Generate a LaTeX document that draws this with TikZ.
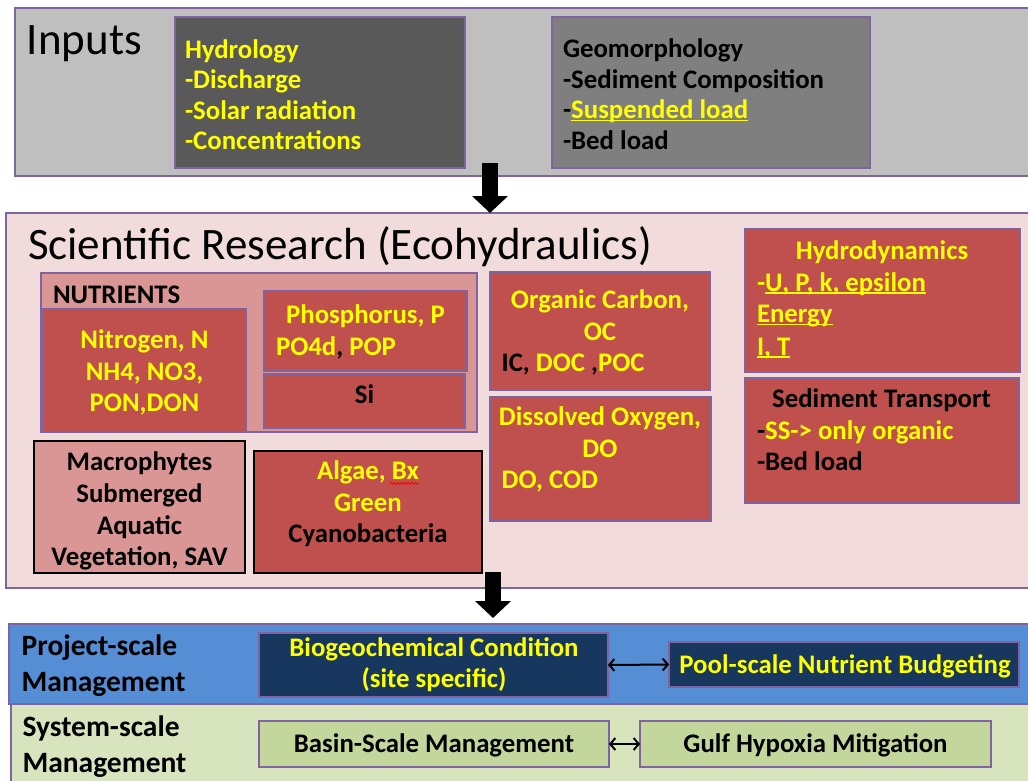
\documentclass[tikz,border=0pt]{standalone}
\usepackage{fontspec}
\setmainfont{Carlito}
\usetikzlibrary{arrows.meta,decorations.pathmorphing}
\definecolor{purp}{HTML}{8064A2}
\definecolor{inbg}{HTML}{BFBFBF}
\definecolor{hydbg}{HTML}{595959}
\definecolor{geobg}{HTML}{7F7F7F}
\definecolor{resbg}{HTML}{F2DCDB}
\definecolor{pinkbg}{HTML}{D99694}
\definecolor{redbg}{HTML}{C0504D}
\definecolor{yel}{HTML}{FFFF00}
\definecolor{projbg}{HTML}{558ED5}
\definecolor{navy}{HTML}{17375E}
\definecolor{sysbg}{HTML}{D7E4BD}
\definecolor{grbox}{HTML}{C3D69B}
\newcommand\bodyfont{\bfseries\fontsize{26.8}{32}\selectfont}
\newcommand\botfont{\bfseries\fontsize{26.8}{32}\selectfont}
\newcommand\lblfont{\bfseries\fontsize{29.5}{35}\selectfont}
\newcommand\bigfont{\fontsize{45}{52}\selectfont}
\newcommand\ulx[1]{\setbox0\hbox{#1}\rlap{\rule[-2.6pt]{\wd0}{1.5pt}}\box0}
\newcommand\bx[6]{\node[#1, anchor=north west, minimum width={(#5-#3)*1pt}, minimum height={(#6-#4)*1pt}] (#2) at (#3,#4) {};}
\newcommand\txtat[5][]{\node[txt,#1] (#2) at (#3,#4) {#5};}
\begin{document}
\begin{tikzpicture}[x=1pt,y=-1pt,
  band/.style={draw=purp, line width=2pt, inner sep=0pt, outer sep=0pt},
  pbox/.style={draw=purp, line width=2pt, inner sep=0pt, outer sep=0pt},
  kbox/.style={draw=black, line width=1.5pt, inner sep=0pt, outer sep=0pt},
  txt/.style={inner sep=0pt, outer sep=0pt, anchor=base west, font=\bodyfont, text=black},
  ctr/.style={anchor=base},
  yl/.style={text=yel},
  bot/.style={font=\botfont},
  lbl/.style={font=\lblfont},
  blk/.style={line width=16pt, -{Triangle[width=35pt 0 0, length=17pt 0 0]}},
  dbl/.style={line width=2pt, {Straight Barb[length=5pt,width=12pt]}-{Straight Barb[length=5pt,width=12pt]}}
]
\fill[white] (0,0) rectangle (1028,780);
\useasboundingbox (0,0) rectangle (1028,780);

% bands
\bx{band, fill=inbg}{inputs}{15}{8}{1034}{176}
\bx{band, fill=resbg}{research}{6}{213}{1034}{588}
\bx{band, fill=projbg}{project}{9}{624}{1034}{704}
\bx{band, fill=sysbg}{system}{11}{704}{1034}{788}

% boxes
\bx{pbox, fill=hydbg}{hyd}{175}{17}{465}{168}
\bx{pbox, fill=geobg}{geo}{552}{17}{870}{168}
\bx{pbox, fill=pinkbg}{nut}{41}{273}{477}{432}
\bx{pbox, fill=redbg}{nitro}{43}{309}{246}{432}
\bx{pbox, fill=redbg}{phos}{264}{291}{467}{371}
\bx{pbox, fill=redbg}{si}{264}{374}{465}{428}
\bx{kbox, fill=pinkbg}{macro}{34}{441}{245}{573}
\bx{kbox, fill=redbg}{algae}{254}{451}{482}{573}
\bx{pbox, fill=redbg}{oc}{490}{272}{710}{390}
\bx{pbox, fill=redbg}{dox}{490}{397}{711}{521}
\bx{pbox, fill=redbg}{hydro}{745}{229}{1020}{372}
\bx{pbox, fill=redbg}{sed}{745}{378}{1019}{503}
\bx{pbox, fill=navy}{bio}{259}{633}{608}{697}
\bx{pbox, fill=navy}{pool}{669}{642}{1019}{687}
\bx{pbox, fill=grbox}{basin}{259}{721}{609}{767}
\bx{pbox, fill=grbox}{gulf}{640}{721}{991}{767}

% block arrows
\coordinate (a1s) at (490,163);
\coordinate (a1e) at (490,213);
\coordinate (a2s) at (493,572);
\coordinate (a2e) at (493,618);
\draw[blk] (a1s) -- (a1e);
\draw[blk] (a2s) -- (a2e);

% double arrows
\draw[dbl] (bio.east) -- (pool.west);
\draw[dbl] (basin.east) -- (gulf.west);

% Inputs
\txtat[font=\bigfont]{tin}{27}{54.5}{Inputs}
\txtat[yl]{th1}{185}{58}{Hydrology}
\txtat[yl]{th2}{185}{88.5}{-Discharge}
\txtat[yl]{th3}{185}{119}{-Solar radiation}
\txtat[yl]{th4}{185}{149.5}{-Concentrations}
\txtat{tg1}{563}{57.5}{Geomorphology}
\txtat{tg2}{563}{88}{-Sediment Composition}
\txtat{tg3}{563}{118.5}{-{\color{yel}\ulx{Suspended load}}}
\txtat{tg4}{563}{149}{-Bed load}

% Research
\txtat[font=\bigfont]{ttitle}{28}{259.3}{Scientific Research (Ecohydraulics)}
\txtat{tnut}{53}{303.3}{NUTRIENTS}
\txtat[ctr,yl]{tn1}{144.5}{348.3}{Nitrogen, N}
\txtat[ctr,yl]{tn2}{144.5}{380}{NH4, NO3,}
\txtat[ctr,yl]{tn3}{144.5}{411.7}{PON,DON}
\txtat[ctr,yl]{tp1}{365.5}{323.3}{Phosphorus, P}
\txtat[yl]{tp2}{276}{355.7}{PO4d{\color{black},} POP}
\txtat[ctr]{tsi}{364.5}{403.3}{Si}
\txtat[ctr]{tm1}{139.5}{470}{Macrophytes}
\txtat[ctr]{tm2}{139.5}{502.3}{Submerged}
\txtat[ctr]{tm3}{139.5}{534}{Aquatic}
\txtat[ctr]{tm4}{139.5}{565.7}{Vegetation, SAV}
\txtat[ctr,yl]{ta1}{368}{479.3}{Algae, Bx}
\txtat[ctr,yl]{ta2}{368}{511}{Green}
\txtat[ctr]{ta3}{368}{542.3}{Cyanobacteria}
\draw[red, line width=0.8pt, decorate, decoration={snake, amplitude=0.9pt, segment length=3.5pt}] (ta1.base east) ++(-29,4) -- ++(29,0);
\txtat[ctr,yl]{to1}{600}{308.3}{Organic Carbon,}
\txtat[ctr,yl]{to2}{600}{340}{OC}
\txtat{to3}{501.7}{371.7}{IC, {\color{yel}DOC} ,{\color{yel}POC}}
\txtat[ctr,yl]{td1}{600}{425}{Dissolved Oxygen,}
\txtat[ctr,yl]{td2}{600}{457.3}{DO}
\txtat[yl]{td3}{501.7}{488.3}{DO, COD}
\txtat[ctr,yl]{thy1}{882}{259.3}{Hydrodynamics}
\txtat[yl]{thy2}{757}{291}{-\ulx{U, P, k, epsilon}}
\txtat[yl]{thy3}{757}{322.7}{\ulx{Energy}}
\txtat[yl]{thy4}{757}{355}{\ulx{I, T}}
\txtat[ctr]{ts1}{881.5}{407.3}{Sediment Transport}
\txtat{ts2}{757}{439.3}{-{\color{yel}SS-> only organic}}
\txtat{ts3}{757}{470.7}{-Bed load}

% Management
\txtat[lbl]{tpr1}{21.7}{655.7}{Project-scale}
\txtat[lbl]{tpr2}{21.7}{691.7}{Management}
\txtat[lbl]{tsy1}{22.5}{736}{System-scale}
\txtat[lbl]{tsy2}{22.5}{772.3}{Management}
\txtat[ctr,yl,bot]{tb1}{434}{656.7}{Biogeochemical Condition}
\txtat[ctr,yl,bot]{tb2}{434}{687}{(site specific)}
\txtat[ctr,yl,bot]{tpo}{845}{673}{Pool-scale Nutrient Budgeting}
\txtat[ctr,bot]{tba}{434}{752.3}{Basin-Scale Management}
\txtat[ctr,bot]{tgu}{815.5}{752}{Gulf Hypoxia Mitigation}
\end{tikzpicture}
\end{document}
